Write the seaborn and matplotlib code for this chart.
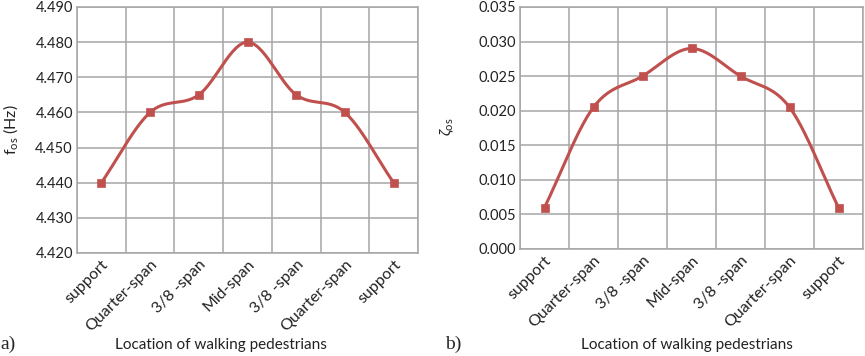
"""Natural frequency and damping ratio vs. pedestrian location."""

import matplotlib.pyplot as plt
import numpy as np
import pandas as pd
import seaborn as sns

locations = ["support", "Quarter-span", "3/8 -span", "Mid-span", "3/8 -span", "Quarter-span", "support"]
freq_hz = [4.440, 4.460, 4.465, 4.480, 4.465, 4.460, 4.440]
damping = [0.006, 0.0205, 0.025, 0.029, 0.025, 0.0205, 0.006]

f_ticks = [4.420, 4.430, 4.440, 4.450, 4.460, 4.470, 4.480, 4.490]
z_ticks = [0.000, 0.005, 0.010, 0.015, 0.020, 0.025, 0.030, 0.035]

LINE = "#C0504D"
GRID = "#A6A6A6"


def _smooth(y, n=30):
    # Catmull-Rom curve through the points, like a spreadsheet "smoothed line"
    y = np.asarray(y, dtype=float)
    x = np.arange(len(y), dtype=float)
    px = np.concatenate([[2 * x[0] - x[1]], x, [2 * x[-1] - x[-2]]])
    py = np.concatenate([[2 * y[0] - y[1]], y, [2 * y[-1] - y[-2]]])
    xs, ys = [], []
    t = np.linspace(0, 1, n, endpoint=False)
    for i in range(1, len(px) - 2):
        for arr, out in ((px, xs), (py, ys)):
            p0, p1, p2, p3 = arr[i - 1], arr[i], arr[i + 1], arr[i + 2]
            out.append(0.5 * (2 * p1 + (-p0 + p2) * t + (2 * p0 - 5 * p1 + 4 * p2 - p3) * t ** 2
                              + (-p0 + 3 * p1 - 3 * p2 + p3) * t ** 3))
    xs.append([x[-1]])
    ys.append([y[-1]])
    return np.concatenate(xs), np.concatenate(ys)


def _panel(ax, values, ticks, fmt, ylabel):
    xs, ys = _smooth(values)
    sns.lineplot(x=xs, y=ys, ax=ax, color=LINE, linewidth=2.2, sort=False, zorder=3)
    pts = pd.DataFrame({"pos": np.arange(len(values)), "val": values})
    sns.scatterplot(data=pts, x="pos", y="val", ax=ax, marker="s", s=36, color=LINE,
                    edgecolor=LINE, zorder=4)
    ax.set_xlim(-0.5, len(values) - 0.5)
    ax.set_ylim(ticks[0], ticks[-1])
    ax.set_yticks(ticks)
    ax.set_yticklabels([fmt.format(v) for v in ticks])
    ax.set_xticks(np.arange(len(values)))
    ax.set_xticklabels(locations, rotation=45, ha="right", rotation_mode="anchor")
    ax.set_xticks(np.arange(len(values) + 1) - 0.5, minor=True)
    ax.grid(False)
    ax.grid(True, which="minor", axis="x", color=GRID, linewidth=1.1)
    ax.grid(True, which="major", axis="y", color=GRID, linewidth=1.1)
    ax.tick_params(which="both", length=0, colors="#222222", pad=3)
    ax.tick_params(axis="y", labelsize=10.5)
    ax.tick_params(axis="x", labelsize=11.5)
    for sp in ax.spines.values():
        sp.set_visible(True)
        sp.set_color(GRID)
        sp.set_linewidth(1.1)
    ax.set_ylabel(ylabel, fontsize=11.5, color="#222222")
    ax.set_xlabel("Location of walking pedestrians", fontsize=11, color="#222222", labelpad=6)


def main() -> None:
    sns.set_theme(style="white")
    plt.rcParams["font.family"] = ["Lato", "DejaVu Sans"]
    plt.rcParams["mathtext.fontset"] = "custom"
    plt.rcParams["mathtext.rm"] = "Lato"
    plt.rcParams["mathtext.it"] = "Lato:italic"

    fig = plt.figure(figsize=(8.65, 3.56), dpi=100)
    ax1 = fig.add_axes([77 / 865, 1 - 253 / 356, 341 / 865, 246 / 356])
    ax2 = fig.add_axes([520 / 865, 1 - 249 / 356, 343 / 865, 242 / 356])

    _panel(ax1, freq_hz, f_ticks, "{:.3f}", r"f$_{\rm os}$ (Hz)")
    _panel(ax2, damping, z_ticks, "{:.3f}", r"$\zeta_{\rm os}$")

    # label positions as in the reference figure (pixel coords -> axes coords)
    ax1.yaxis.set_label_coords((20 - 77) / 341, (253 - 130) / 246)
    ax2.yaxis.set_label_coords((456 - 520) / 343, (249 - 127) / 242)
    ax1.xaxis.set_label_coords((221 - 77) / 341, (253 - 345) / 246)
    ax2.xaxis.set_label_coords((687 - 520) / 343, (249 - 345) / 242)
    ax1.xaxis.label.set_va("center")
    ax2.xaxis.label.set_va("center")

    fig.text(0.0, 1 - 344 / 356, "a)", family="Liberation Serif", fontsize=14, va="center")
    fig.text(445 / 865, 1 - 344 / 356, "b)", family="Liberation Serif", fontsize=14, va="center")

    fig.savefig("out.png", dpi=100)
    plt.close(fig)


if __name__ == "__main__":
    main()
